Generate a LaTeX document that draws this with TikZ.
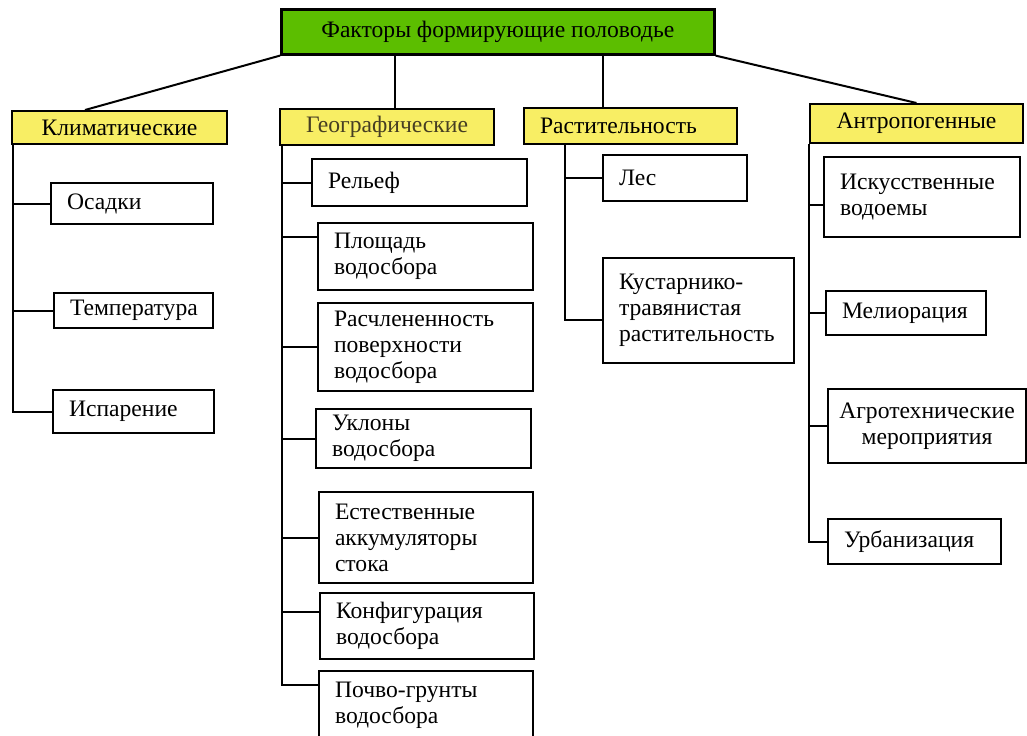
\documentclass[tikz,border=0pt]{standalone}
\usepackage{fontspec}
\setmainfont{Liberation Serif}
\usepackage{tikz}

\definecolor{titlegreen}{RGB}{92,190,0}
\definecolor{groupyellow}{RGB}{248,238,100}
\definecolor{geotext}{RGB}{70,62,35}

\tikzset{
 titlebox/.style={draw, line width=1.3pt, fill=titlegreen, anchor=north west, inner sep=0pt, font=\fontsize{11.8}{13}\selectfont},
 groupbox/.style={draw, line width=1pt, fill=groupyellow, anchor=north west, inner xsep=8pt, inner ysep=0pt, font=\fontsize{11.8}{13}\selectfont},
 itembox/.style={draw, line width=1pt, anchor=north west, align=left, inner xsep=8pt, inner ysep=0pt, font=\fontsize{11.8}{13}\selectfont},
 link/.style={line width=1pt},
}

\begin{document}
\begin{tikzpicture}[x=0.5pt,y=-0.5pt]

 \useasboundingbox (0,0) rectangle (1027,735);

 \node[titlebox, minimum width=216.5pt, minimum height=22.5pt] (title) at (280,8) {Факторы формирующие половодье};

% groups
 \node[groupbox, minimum width=107.5pt, minimum height=16.5pt] (klim) at (11,110) {Климатические};
 \node[groupbox, minimum width=107pt, minimum height=18pt, text=geotext] (geo) at (279,108) {Географические};
 \node[groupbox, text width=90.5pt, align=left, minimum height=18pt] (rast) at (523,107) {Растительность};
 \node[groupbox, minimum width=106.5pt, minimum height=19.5pt] (antr) at (809,103) {Антропогенные};

 \draw[link] (title.south west) -- ([xshift=37pt]klim.north west);
 \draw[link] ([xshift=4pt]geo.north) -- ([xshift=4pt]geo.north |- title.south);
 \draw[link] ([xshift=-14pt]rast.north) -- ([xshift=-14pt]rast.north |- title.south);
 \draw[link] (title.south east) -- (antr.north);

% climate
 \node[itembox, text width=65pt, minimum height=20.5pt] (osadki) at (50,182) {Осадки};
 \node[itembox, text width=63.5pt, minimum height=17.5pt] (temp) at (53,292) {Температура};
 \node[itembox, text width=64.5pt, minimum height=21.5pt] (ispar) at (52,389) {Испарение};

 \coordinate (kt) at ([xshift=1pt]klim.south west);
 \draw[link] (kt) |- (ispar.west);
 \draw[link] (osadki.west) -- (osadki.west -| kt);
 \draw[link] (temp.west) -- (temp.west -| kt);

% geography
 \node[itembox, text width=91.5pt, minimum height=23.5pt] (relief) at (311,158) {Рельеф};
 \node[itembox, text width=91.5pt, minimum height=33.5pt] (plosch) at (317,222) {Площадь\\водосбора};
 \node[itembox, text width=91.5pt, minimum height=44pt] (rasch) at (317,302) {Расчлененность\\поверхности\\водосбора};
 \node[itembox, text width=91.5pt, minimum height=29.5pt] (uklon) at (315,408) {Уклоны\\водосбора};
 \node[itembox, text width=91pt, minimum height=45.5pt] (estest) at (318,491) {Естественные\\аккумуляторы\\стока};
 \node[itembox, text width=91pt, minimum height=33pt] (konf) at (319,592) {Конфигурация\\водосбора};
 \node[itembox, text width=91pt, minimum height=34pt] (pochvo) at (318,670) {Почво-грунты\\водосбора};

 \coordinate (gt) at ([xshift=1.5pt]geo.south west);
 \draw[link] (gt) |- ([yshift=-7.5pt]pochvo.north west);
 \draw[link] (relief.west) -- (relief.west -| gt);
 \draw[link] ([yshift=-7.5pt]plosch.north west) -- ([yshift=-7.5pt]plosch.north west -| gt);
 \draw[link] (rasch.west) -- (rasch.west -| gt);
 \draw[link] (uklon.west) -- (uklon.west -| gt);
 \draw[link] (estest.west) -- (estest.west -| gt);
 \draw[link] ([yshift=-10pt]konf.north west) -- ([yshift=-10pt]konf.north west -| gt);

% vegetation
 \node[itembox, text width=56pt, minimum height=23pt] (les) at (602,154) {Лес};
 \node[itembox, text width=79.5pt, minimum height=52.5pt] (kust) at (602,257) {Кустарнико-\\травянистая\\растительность};

 \coordinate (rt) at ([xshift=21pt]rast.south west);
 \draw[link] (rt) |- ([yshift=-4.75pt]kust.west);
 \draw[link] (les.west) -- (les.west -| rt);

% human impact
 \node[itembox, text width=82pt, minimum height=40pt] (iskus) at (823,156) {Искусственные\\водоемы};
 \node[itembox, text width=64pt, minimum height=22pt] (melior) at (825,290) {Мелиорация};
 \node[itembox, text width=91pt, inner xsep=4pt, align=center, minimum height=37pt] (agro) at (827,388) {Агротехнические\\мероприятия};
 \node[itembox, text width=70.5pt, minimum height=22.5pt] (urban) at (827,518) {Урбанизация};

 \coordinate (at) at (antr.south west);
 \draw[link] (at) |- (urban.west);
 \draw[link] ([yshift=-4pt]iskus.west) -- ([yshift=-4pt]iskus.west -| at);
 \draw[link] (melior.west) -- (melior.west -| at);
 \draw[link] (agro.west) -- (agro.west -| at);

\end{tikzpicture}
\end{document}
